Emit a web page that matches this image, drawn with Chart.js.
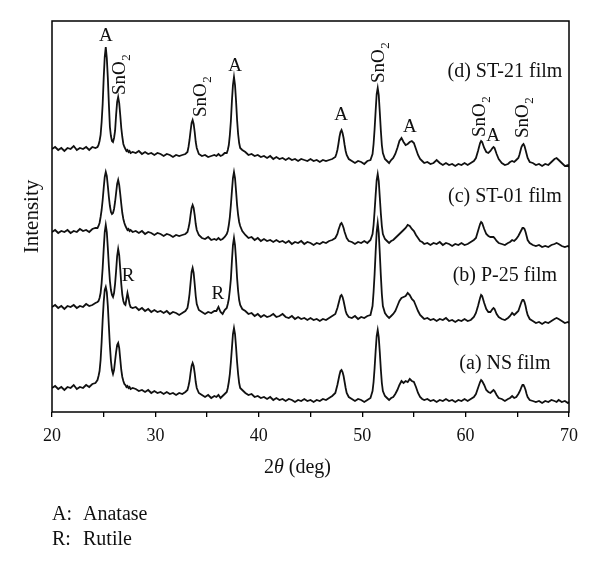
<!DOCTYPE html>
<html>
<head>
<meta charset="utf-8">
<script src="https://cdn.jsdelivr.net/npm/chart.js@4.4.1/dist/chart.umd.min.js"></script>
<style>
  html, body { margin: 0; padding: 0; background: #fff; }
  canvas { display: block; }
</style>
</head>
<body>
<canvas id="xrd" width="600" height="574"></canvas>
<script>
// 2-theta sampling points (denser around the peaks)
const twoTheta = [
  20.0,20.3,20.6,20.9,21.2,21.5,21.8,22.1,22.4,22.7,23.0,23.3,23.6,23.9,24.2,
  24.4,24.5,24.6,24.7,24.8,24.9,25.0,25.1,25.2,25.3,25.4,25.5,25.6,25.7,25.8,25.9,26.0,26.1,26.2,26.3,26.4,26.5,26.6,26.7,26.8,26.9,27.0,27.1,27.2,27.3,27.4,27.5,27.6,27.8,
  28.1,28.4,28.7,29.0,29.3,29.6,29.9,30.2,30.5,30.8,31.1,31.4,31.7,32.0,32.3,32.6,32.9,
  33.1,33.2,33.3,33.4,33.5,33.6,33.7,33.8,33.9,34.0,34.2,
  34.5,34.8,35.1,35.4,35.7,
  35.9,36.1,36.3,36.5,36.7,
  36.9,37.0,37.1,37.2,37.3,37.4,37.5,37.6,37.7,37.8,37.9,38.0,38.1,38.2,38.4,
  38.7,39.0,39.3,39.6,39.9,40.2,40.5,40.8,41.1,41.4,41.7,42.0,42.3,42.6,42.9,43.2,43.5,43.8,44.1,44.4,44.7,45.0,45.3,45.6,45.9,46.2,46.5,46.8,47.1,
  47.4,47.5,47.6,47.7,47.8,47.9,48.0,48.1,48.2,48.3,48.4,48.5,48.7,
  49.0,49.3,49.6,49.9,50.2,50.5,50.8,
  51.0,51.1,51.2,51.3,51.4,51.5,51.6,51.7,51.8,51.9,52.0,52.2,
  52.4,52.6,52.8,53.0,53.2,53.4,53.6,53.8,54.0,54.2,54.4,54.6,54.8,55.0,55.2,55.4,55.6,55.8,56.0,
  56.3,56.6,56.9,57.2,57.5,57.8,58.1,58.4,58.7,59.0,59.3,59.6,59.9,60.2,60.5,60.8,
  61.0,61.2,61.4,61.5,61.6,61.8,62.0,62.2,62.4,62.6,62.7,62.8,63.0,63.2,
  63.5,63.8,64.1,64.3,64.5,64.7,64.9,
  65.1,65.2,65.3,65.4,65.5,65.6,65.7,65.8,65.9,66.0,66.2,
  66.5,66.8,67.1,67.4,67.7,68.0,68.3,68.6,68.8,69.0,69.3,69.6,69.9,70.0
];

// intensities as plotted (stacked, arbitrary units)
const st21Film = [
  263,265,262,264,261,264,263,266,262,264,263,265,262,265,264,
  265,267,271,277,290,308,334,355,365,354,334,308,285,276,271,270,274,281,297,310,315,309,297,284,275,268,265,263,261,262,260,261,259,260,
  259,261,258,260,258,259,257,259,258,256,258,257,255,257,256,257,258,
  260,265,272,281,289,292,288,280,270,264,258,
  256,257,255,256,257,
  256,258,256,257,259,
  259,262,267,277,291,311,327,335,327,311,292,278,269,264,262,
  260,257,258,256,257,255,256,254,256,253,255,253,254,252,254,252,253,251,253,252,251,253,251,252,250,252,251,252,253,
  255,258,262,268,275,280,282,279,274,267,261,257,253,
  251,249,251,250,248,251,252,
  258,268,283,301,318,324,317,300,282,267,259,253,
  251,249,252,254,258,264,271,274,270,267,268,270,271,269,263,257,253,251,249,
  250,248,249,252,249,247,249,247,248,246,248,247,249,247,249,251,
  254,261,269,271,270,264,260,259,261,264,265,264,258,253,
  249,247,248,250,251,250,252,
  254,257,261,265,267,268,266,262,258,254,250,
  249,247,248,246,248,247,250,253,254,252,249,246,247,245
];

const st01Film = [
  180,182,179,181,180,182,179,181,180,183,181,182,180,183,184,
  184,186,189,195,202,212,224,235,240,236,226,215,206,200,198,199,203,210,219,228,232,227,218,208,199,193,189,186,184,182,183,181,182,180,
  181,179,181,178,180,179,177,179,178,176,178,177,175,177,176,177,178,
  180,184,189,197,204,207,204,197,188,182,177,
  174,173,175,172,173,
  172,174,172,173,175,
  178,181,187,195,207,221,234,240,234,221,207,197,190,186,181,
  177,174,175,172,174,171,173,171,172,170,172,170,171,169,171,168,170,169,171,168,170,169,167,169,168,170,169,171,172,
  174,176,178,182,185,188,189,187,184,180,177,174,171,
  170,168,170,169,171,169,172,
  178,187,201,217,232,238,231,215,199,186,178,173,
  171,169,171,172,174,176,178,180,182,184,187,186,183,181,177,174,171,170,168,
  169,167,169,168,170,167,169,168,166,168,167,169,167,168,170,172,
  174,181,188,190,189,183,178,176,175,175,175,174,171,169,
  168,167,169,170,172,171,173,
  176,178,180,182,184,184,183,180,176,172,169,
  167,166,167,165,166,165,167,168,169,168,166,165,166,165
];

const p25Film = [
  105,107,104,106,103,106,105,107,104,106,105,108,106,107,109,
  110,111,114,119,129,144,163,180,187,180,164,146,131,122,117,115,119,128,141,156,163,157,143,128,117,111,108,107,113,119,114,108,105,104,
  105,102,104,101,103,100,102,100,101,99,101,98,100,99,97,99,101,
  104,110,118,129,140,144,139,128,116,108,102,
  100,98,100,99,101,
  101,105,100,98,102,
  104,108,113,122,133,151,167,174,167,152,134,121,112,107,103,
  101,98,99,96,98,95,97,95,96,98,95,96,98,95,94,96,93,95,93,94,92,94,92,93,91,93,92,94,96,
  98,101,104,108,112,116,117,115,111,106,101,98,95,
  94,96,93,95,94,96,97,
  106,120,138,160,180,189,179,159,137,118,106,99,
  96,94,96,98,101,106,111,114,115,116,119,117,113,111,106,101,97,95,93,
  94,92,93,91,93,92,94,91,92,90,92,91,93,91,92,95,
  99,106,114,117,116,109,103,100,100,103,104,103,98,95,
  93,92,94,96,99,97,99,
  101,104,107,110,112,112,110,106,101,97,93,
  91,89,90,88,90,89,91,93,94,93,91,89,90,89
];

const nsFilm = [
  24,26,23,25,22,25,24,27,23,25,24,27,25,28,29,
  32,36,41,52,70,92,110,122,125,120,106,86,66,51,42,38,42,51,60,67,69,64,53,42,35,31,28,27,25,26,24,25,23,24,
  23,21,22,20,22,19,21,19,20,18,20,18,19,17,19,18,20,
  22,26,31,39,46,49,46,39,30,24,19,
  17,15,17,14,16,
  15,17,14,16,18,
  20,24,30,38,50,64,78,84,78,65,50,38,29,24,22,
  19,17,18,15,16,14,15,13,15,12,14,12,13,11,13,12,10,12,11,13,11,12,10,12,11,13,12,14,16,
  19,23,27,32,37,41,42,40,36,30,24,19,15,
  13,11,13,12,10,12,14,
  21,30,44,61,76,82,75,60,43,29,21,16,
  14,12,14,15,18,22,27,31,29,31,30,33,31,30,25,19,15,13,12,
  13,11,12,10,12,11,13,11,12,10,12,11,13,11,13,15,
  18,24,30,32,31,27,22,20,19,21,22,21,17,14,
  13,11,13,14,16,14,15,
  18,20,22,25,27,27,25,22,18,15,12,
  11,10,11,9,11,10,12,11,10,12,10,11,9,10
];

const xTickLabels = [20, 30, 40, 50, 60, 70];

const filmNames = ['(a) NS film', '(b) P-25 film', '(c) ST-01 film', '(d) ST-21 film'];
const filmLabelAt = [[63.8, 48], [63.8, 136], [63.8, 215], [63.8, 340]];

// peak markers: [2theta, intensity] where the label sits
const anataseMarks = [[25.2, 376], [37.7, 346], [47.95, 297], [54.6, 285], [62.65, 276]];
const rutileMarks = [[27.35, 136], [36.05, 118]];
const tinOxideMarks = [[27.06, 317], [34.89, 295], [52.1, 329], [61.88, 275], [66.03, 274]];

const SERIF = '"Liberation Serif", "Times New Roman", serif';
const INK = '#111';

[st21Film, st01Film, p25Film, nsFilm].forEach(function (s) {
  if (s.length !== twoTheta.length) console.error('length mismatch', s.length, twoTheta.length);
});

function toPoints(values) {
  return twoTheta.map(function (t, i) { return { x: t, y: values[i] }; });
}

const decorations = {
  id: 'decorations',
  afterDraw: function (chart) {
    const ctx = chart.ctx;
    const area = chart.chartArea;
    const x = chart.scales.x;
    const y = chart.scales.y;
    ctx.save();

    // frame
    ctx.strokeStyle = '#000';
    ctx.lineWidth = 1.5;
    ctx.strokeRect(area.left, area.top, area.right - area.left, area.bottom - area.top);

    ctx.fillStyle = INK;

    // A / R labels
    ctx.font = '19px ' + SERIF;
    ctx.textAlign = 'center';
    ctx.textBaseline = 'middle';
    anataseMarks.forEach(function (m) {
      ctx.fillText('A', x.getPixelForValue(m[0]), y.getPixelForValue(m[1]));
    });
    rutileMarks.forEach(function (m) {
      ctx.fillText('R', x.getPixelForValue(m[0]), y.getPixelForValue(m[1]));
    });

    // film names
    ctx.font = '20px ' + SERIF;
    filmNames.forEach(function (name, i) {
      ctx.fillText(name, x.getPixelForValue(filmLabelAt[i][0]), y.getPixelForValue(filmLabelAt[i][1]));
    });

    // rotated SnO2 labels
    tinOxideMarks.forEach(function (m) {
      ctx.save();
      ctx.translate(x.getPixelForValue(m[0]), y.getPixelForValue(m[1]));
      ctx.rotate(-Math.PI / 2);
      ctx.textAlign = 'left';
      ctx.textBaseline = 'alphabetic';
      ctx.font = '19px ' + SERIF;
      ctx.fillText('SnO', 0, 0);
      const w = ctx.measureText('SnO').width;
      ctx.font = '13px ' + SERIF;
      ctx.fillText('2', w + 0.5, 5);
      ctx.restore();
    });

    // x axis title: 2θ (deg)
    ctx.textAlign = 'left';
    ctx.textBaseline = 'alphabetic';
    const parts = [['2', '20px '], ['\u03b8', 'italic 20px '], [' (deg)', '20px ']];
    let total = 0;
    parts.forEach(function (p) { ctx.font = p[1] + SERIF; total += ctx.measureText(p[0]).width; });
    let cx = 297.5 - total / 2;
    parts.forEach(function (p) {
      ctx.font = p[1] + SERIF;
      ctx.fillText(p[0], cx, 473);
      cx += ctx.measureText(p[0]).width;
    });

    // phase key
    ctx.font = '20px ' + SERIF;
    ctx.fillText('A:', 52, 520);
    ctx.fillText('Anatase', 83, 520);
    ctx.fillText('R:', 52, 545);
    ctx.fillText('Rutile', 83, 545);

    ctx.restore();
  }
};

function trace(label, values) {
  return {
    label: label,
    data: toPoints(values),
    borderColor: INK,
    borderWidth: 1.8,
    pointRadius: 0,
    tension: 0,
    fill: false
  };
}

new Chart(document.getElementById('xrd').getContext('2d'), {
  type: 'line',
  data: {
    datasets: [
      trace('(d) ST-21 film', st21Film),
      trace('(c) ST-01 film', st01Film),
      trace('(b) P-25 film', p25Film),
      trace('(a) NS film', nsFilm)
    ]
  },
  options: {
    responsive: false,
    animation: false,
    devicePixelRatio: 1,
    layout: { padding: { top: 21, right: 31, left: 0, bottom: 0 } },
    plugins: {
      legend: { display: false },
      tooltip: { enabled: false }
    },
    scales: {
      x: {
        type: 'linear',
        min: 20,
        max: 70,
        afterFit: function (s) { s.height = 162; },
        border: { display: false },
        grid: {
          drawOnChartArea: false,
          drawTicks: true,
          tickLength: 5,
          color: '#000',
          lineWidth: 1.3
        },
        ticks: {
          stepSize: 5,
          autoSkip: false,
          maxRotation: 0,
          padding: 8,
          color: INK,
          font: { family: SERIF, size: 18 },
          callback: function (v) { return xTickLabels.indexOf(v) >= 0 ? String(v) : ''; }
        }
      },
      y: {
        min: 0,
        max: 391,
        afterFit: function (s) { s.width = 52; },
        border: { display: false },
        grid: { display: false },
        ticks: { display: false },
        title: {
          display: true,
          text: 'Intensity',
          color: INK,
          font: { family: SERIF, size: 21 },
          padding: { top: 20, bottom: 0 }
        }
      }
    }
  },
  plugins: [decorations]
});
</script>
</body>
</html>
